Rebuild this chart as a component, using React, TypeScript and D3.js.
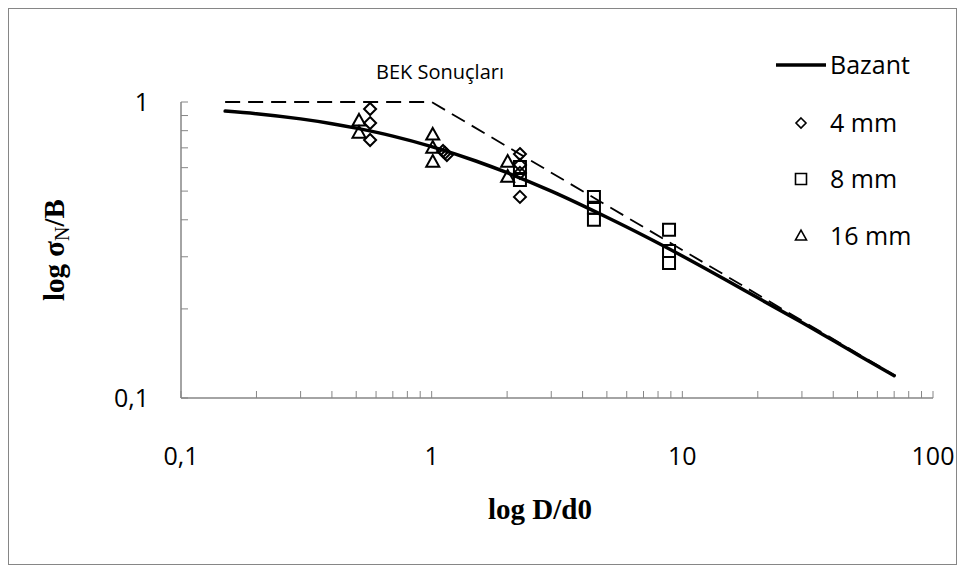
import React from "react";
import * as d3 from "d3";

const W = 965;
const H = 572;

// Bazant size effect curve
const bazantX = [0.15, 0.2, 0.3, 0.4, 0.5, 0.7, 1, 1.5, 2, 3, 5, 7, 10, 15, 20, 30, 50, 70];
const bazantY = [0.932, 0.913, 0.877, 0.845, 0.816, 0.767, 0.707, 0.632, 0.577, 0.5, 0.408, 0.354, 0.302, 0.25, 0.218, 0.18, 0.14, 0.119];

// Asymptotes (dashed)
const dashX = [0.15, 1, 70];
const dashY = [1, 1, 0.1195];

// 4 mm (diamonds)
const mm4X = [0.568, 0.568, 0.568, 1.11, 1.13, 1.15, 2.25, 2.25, 2.25, 2.25];
const mm4Y = [0.947, 0.849, 0.744, 0.683, 0.673, 0.662, 0.667, 0.613, 0.576, 0.478];

// 8 mm (squares)
const mm8X = [2.25, 2.25, 4.44, 4.44, 4.44, 8.85, 8.85, 8.85];
const mm8Y = [0.603, 0.545, 0.478, 0.439, 0.4, 0.37, 0.314, 0.286];

// 16 mm (triangles)
const mm16X = [0.513, 0.513, 1.01, 1.01, 1.01, 2.01, 2.01];
const mm16Y = [0.863, 0.786, 0.774, 0.699, 0.627, 0.627, 0.558];

const xTicks = [0.1, 1, 10, 100];
const xTickLabels = ["0,1", "1", "10", "100"];
const yTicks = [0.1, 1];
const yTickLabels = ["0,1", "1"];

const legendLabels = ["Bazant", "4 mm", "8 mm", "16 mm"];
const title = "BEK Sonuçları";

const AXIS = "#868686";
const SANS = "'Open Sans', 'Liberation Sans', sans-serif";
const SERIF = "'Liberation Serif', 'DejaVu Serif', serif";

function diamond(cx: number, cy: number, r: number) {
  return `M${cx},${cy - r}L${cx + r},${cy}L${cx},${cy + r}L${cx - r},${cy}Z`;
}
function square(cx: number, cy: number, s: number) {
  return `M${cx - s / 2},${cy - s / 2}h${s}v${s}h${-s}Z`;
}
function triangle(cx: number, cy: number, s: number) {
  const h = s * 0.9;
  return `M${cx},${cy - h * 0.6}L${cx + s / 2},${cy + h * 0.4}L${cx - s / 2},${cy + h * 0.4}Z`;
}

export default function App() {
  const x = d3.scaleLog().domain([0.1, 100]).range([181, 933]);
  const y = d3.scaleLog().domain([0.1, 1]).range([398, 102]);

  const lineGen = d3
    .line<[number, number]>()
    .x((d) => x(d[0]))
    .y((d) => y(d[1]))
    .curve(d3.curveMonotoneX);
  const straight = d3
    .line<[number, number]>()
    .x((d) => x(d[0]))
    .y((d) => y(d[1]));

  const bazant = bazantX.map((v, i) => [v, bazantY[i]] as [number, number]);
  const dash = dashX.map((v, i) => [v, dashY[i]] as [number, number]);

  const xMinor: number[] = [];
  for (let dec = 0.1; dec < 100; dec *= 10) {
    for (let k = 2; k <= 9; k++) xMinor.push(+(dec * k).toPrecision(3));
  }
  const yMinor: number[] = [];
  for (let k = 2; k <= 9; k++) yMinor.push(+(0.1 * k).toPrecision(3));

  const x0 = x(0.1);
  const y0 = y(0.1);
  const tk = 7;
  const ms = "#000";
  const mw = 2;

  return (
    <svg
      width={W}
      height={H}
      style={{ position: "absolute", left: 0, top: 0, background: "#fff" }}
    >
      <rect x={8.5} y={8.5} width={948} height={556} fill="#fff" stroke={AXIS} strokeWidth={1} />

      {/* title */}
      <text x={440} y={79} textAnchor="middle" fontFamily={SANS} fontSize={20} fill="#000">
        {title}
      </text>

      {/* axes */}
      <line x1={x0} x2={x(100)} y1={y0} y2={y0} stroke={AXIS} strokeWidth={1.5} />
      <line x1={x0} x2={x0} y1={y(1)} y2={y0} stroke={AXIS} strokeWidth={1.5} />
      {xTicks.concat(xMinor).map((t, i) => (
        <line key={"xt" + i} x1={x(t)} x2={x(t)} y1={y0} y2={y0 - tk} stroke={AXIS} strokeWidth={1} />
      ))}
      {yTicks.concat(yMinor).map((t, i) => (
        <line key={"yt" + i} x1={x0} x2={x0 + tk} y1={y(t)} y2={y(t)} stroke={AXIS} strokeWidth={1} />
      ))}
      {xTicks.map((t, i) => (
        <text key={"xl" + i} x={x(t)} y={465} textAnchor="middle" fontFamily={SANS} fontSize={25} fill="#000">
          {xTickLabels[i]}
        </text>
      ))}
      {yTicks.map((t, i) => (
        <text key={"yl" + i} x={149} y={y(t) + 9} textAnchor="end" fontFamily={SANS} fontSize={25} fill="#000">
          {yTickLabels[i]}
        </text>
      ))}

      {/* axis titles */}
      <text x={540} y={519} textAnchor="middle" fontFamily={SERIF} fontWeight="bold" fontSize={29} fill="#000">
        log D/d0
      </text>
      <text
        transform={`translate(64,250) rotate(-90)`}
        textAnchor="middle"
        fontFamily={SERIF}
        fontWeight="bold"
        fontSize={29}
        fill="#000"
      >
        log σ
        <tspan fontSize={20} fontWeight="normal" dy={5}>N</tspan>
        <tspan dy={-5}>/B</tspan>
      </text>

      {/* series */}
      <path d={straight(dash) || ""} fill="none" stroke="#000" strokeWidth={1.8} strokeDasharray="15,8" />
      <path d={lineGen(bazant) || ""} fill="none" stroke="#000" strokeWidth={3.5} strokeLinecap="round" />

      {mm4X.map((v, i) => (
        <path key={"d" + i} d={diamond(x(v), y(mm4Y[i]), 6)} fill="none" stroke={ms} strokeWidth={mw} />
      ))}
      {mm8X.map((v, i) => (
        <path key={"s" + i} d={square(x(v), y(mm8Y[i]), 12)} fill="none" stroke={ms} strokeWidth={mw} />
      ))}
      {mm16X.map((v, i) => (
        <path key={"t" + i} d={triangle(x(v), y(mm16Y[i]), 13)} fill="none" stroke={ms} strokeWidth={mw} />
      ))}

      {/* legend */}
      <line x1={776} x2={826} y1={65} y2={65} stroke="#000" strokeWidth={3.5} />
      <text x={830} y={74} fontFamily={SANS} fontSize={25} fill="#000">{legendLabels[0]}</text>
      <path d={diamond(801, 123, 5)} fill="none" stroke={ms} strokeWidth={1.6} />
      <text x={830} y={132} fontFamily={SANS} fontSize={25} fill="#000">{legendLabels[1]}</text>
      <path d={square(801, 179, 11)} fill="none" stroke={ms} strokeWidth={1.6} />
      <text x={830} y={188} fontFamily={SANS} fontSize={25} fill="#000">{legendLabels[2]}</text>
      <path d={triangle(801, 236, 11)} fill="none" stroke={ms} strokeWidth={1.6} />
      <text x={830} y={245} fontFamily={SANS} fontSize={25} fill="#000">{legendLabels[3]}</text>
    </svg>
  );
}
